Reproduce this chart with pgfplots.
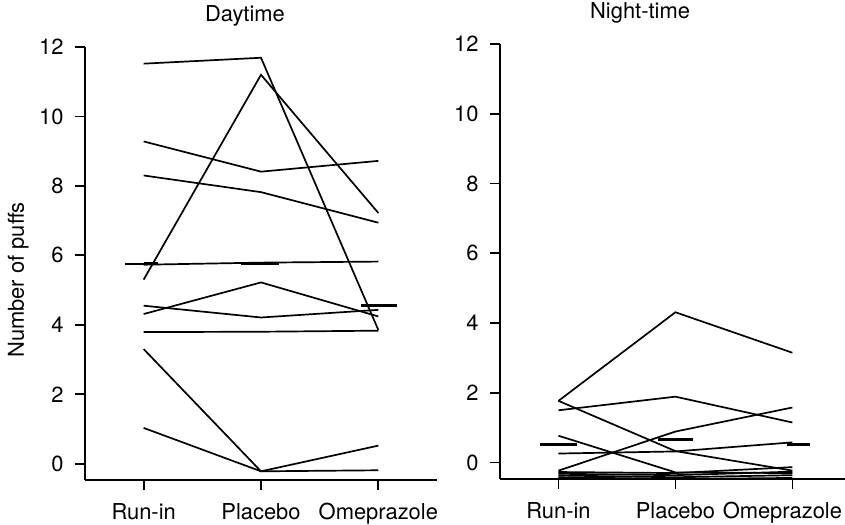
\documentclass[border=0pt]{standalone}
\usepackage{fontspec}
\setmainfont{TeX Gyre Heros}
\usepackage{pgfplots}
\pgfplotsset{compat=1.18}
\pgfplotsset{
  panel/.style={
    scale only axis,
    axis lines*=left,
    axis line style={-, line width=1.7bp, black},
    tick align=outside,
    major tick length=10bp,
    tick style={line width=1.7bp, black},
    font=\fontsize{22}{26}\selectfont,
    /pgf/number format/assume math mode=true,
    xmin=-0.5, ymin=-0.47, ymax=12,
    xtick={0,1,2},
    ytick={0,2,...,12},
    minor tick num=0,
    clip=false,
    yticklabel style={xshift=-8bp},
    xticklabel style={yshift=-10bp},
  },
  pl/.style={black, solid, line width=1.7bp, mark=none},
  med/.style={black, line width=3.2bp, mark=none},
}
\begin{document}
\begin{tikzpicture}
\useasboundingbox (-85bp,-45bp) rectangle (760bp,480bp);
% ---------------- Daytime
\begin{axis}[panel,
  at={(0bp,0bp)}, anchor=south west,
  width=352bp, height=433bp,
  xmax=2.5,
  xticklabels={Run-in, Placebo, Omeprazole},
  title={Daytime},
  title style={at={(rel axis cs:0.4545,1)}, anchor=base, yshift=20bp},
  ylabel={Number of puffs},
  ylabel style={at={(rel axis cs:-0.19,0.462)}, anchor=center, rotate=0},
]
\addplot[pl] coordinates {(0,11.52) (1,11.69) (2,3.85)};
\addplot[pl] coordinates {(0,5.30) (1,11.20) (2,7.22)};
\addplot[pl] coordinates {(0,9.28) (1,8.41) (2,8.72)};
\addplot[pl] coordinates {(0,8.30) (1,7.82) (2,6.94)};
\addplot[pl] coordinates {(0,5.73) (1,5.79) (2,5.82)};
\addplot[pl] coordinates {(0,4.31) (1,5.22) (2,4.24)};
\addplot[pl] coordinates {(0,4.55) (1,4.21) (2,4.43)};
\addplot[pl] coordinates {(0,3.79) (1,3.80) (2,3.83)};
\addplot[pl] coordinates {(0,3.30) (1,-0.22) (2,-0.19)};
\addplot[pl] coordinates {(0,1.03) (1,-0.22) (2,0.52)};
% medians
\addplot[pl] coordinates {(-0.16,5.76) (0,5.76)};
\addplot[med] coordinates {(0,5.76) (0.12,5.76)};
\addplot[med] coordinates {(0.83,5.77) (1.155,5.77)};
\addplot[med] coordinates {(1.854,4.56) (2.155,4.56)};
\end{axis}
% ---------------- Night-time
\begin{axis}[panel,
  at={(415bp,1bp)}, anchor=south west,
  width=345bp, height=435bp,
  xmax=2.45,
  xticklabels={Run-in, Placebo, {\hspace*{-20bp}Omeprazole}},
  title={Night-time},
  title style={at={(rel axis cs:0.406,1)}, anchor=base, yshift=20bp},
]
\addplot[pl] coordinates {(0,1.77) (1,4.31) (2,3.15)};
\addplot[pl] coordinates {(0,1.50) (1,1.89) (2,1.15)};
\addplot[pl] coordinates {(0,1.77) (1,0.33) (2,-0.23)};
\addplot[pl] coordinates {(0,-0.23) (1,0.89) (2,1.58)};
\addplot[pl] coordinates {(0,0.77) (1,-0.28) (2,-0.30)};
\addplot[pl] coordinates {(0,0.26) (1,0.32) (2,0.58)};
\addplot[pl] coordinates {(0,-0.27) (1,-0.30) (2,-0.13)};
\addplot[pl] coordinates {(0,-0.32) (1,-0.36) (2,-0.26)};
\addplot[pl] coordinates {(0,-0.37) (1,-0.42) (2,-0.36)};
\addplot[pl] coordinates {(0,-0.42) (1,-0.47) (2,-0.44)};
% medians
\addplot[med] coordinates {(-0.154,0.53) (0.16,0.53)};
\addplot[med] coordinates {(0.85,0.66) (1.154,0.66)};
\addplot[med] coordinates {(1.95,0.53) (2.15,0.53)};
\end{axis}
\end{tikzpicture}
\end{document}
